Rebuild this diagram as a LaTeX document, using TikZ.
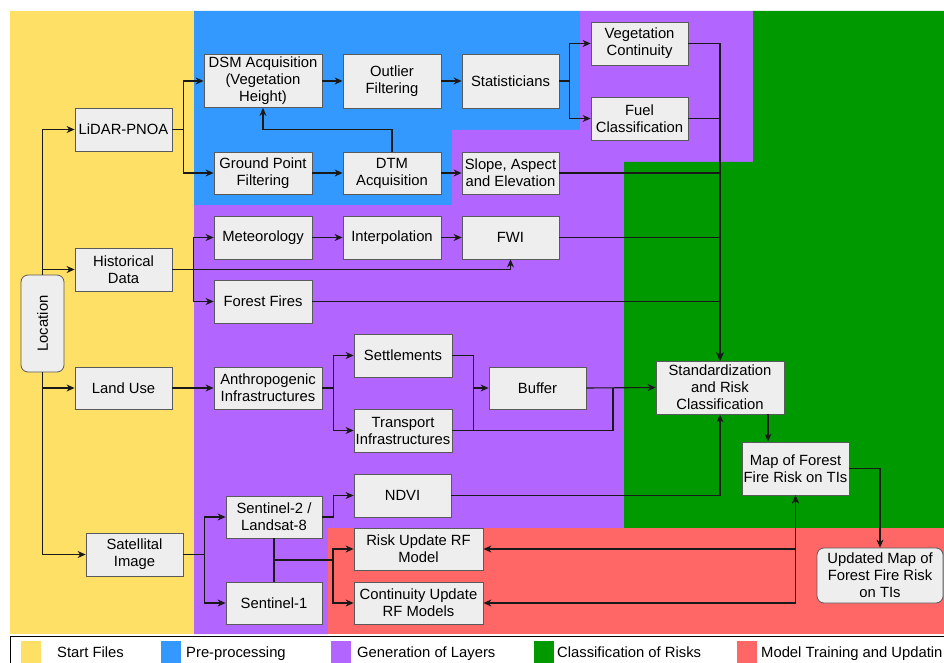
\documentclass[tikz,border=0pt]{standalone}
\usepackage{fontspec}
\usepackage{graphicx}
\setmainfont{Liberation Sans}
\usetikzlibrary{arrows.meta,calc}
\definecolor{cyel}{HTML}{FFE066}
\definecolor{cblu}{HTML}{3399FF}
\definecolor{cpur}{HTML}{B266FF}
\definecolor{cgrn}{HTML}{009900}
\definecolor{cred}{HTML}{FF6666}
\definecolor{cbox}{HTML}{EEEEEE}
\definecolor{cbord}{HTML}{5A5A5A}
\tikzset{
  box/.style={draw=cbord, fill=cbox, line width=0.8pt, align=center, inner sep=1pt,
    font=\fontsize{14.8}{17}\selectfont},
  rbox/.style={box, rounded corners=7pt},
  conn/.style={line width=1.1pt, draw=black!90},
  arr/.style={conn, -{Stealth[length=8pt,width=7pt,inset=2.5pt]}},
  arrb/.style={conn, {Stealth[length=8pt,width=7pt,inset=2.5pt]}-{Stealth[length=8pt,width=7pt,inset=2.5pt]}},
  legtext/.style={anchor=base west, inner sep=0pt, font=\fontsize{14.8}{17}\selectfont}
}
\begin{document}
\begin{tikzpicture}[x=1pt,y=-1pt]
\useasboundingbox (0,0) rectangle (944,663);
\clip (0,0) rectangle (944,663);
\fill[white] (0,0) rectangle (944,663);
% background regions
\fill[cyel] (10,11) rectangle (194,634);
\fill[cblu] (194,11) -- (580,11) -- (580,130) -- (452,130) -- (452,205) -- (194,205) -- cycle;
\fill[cpur] (580,11) -- (753,11) -- (753,162) -- (624,162) -- (624,528) -- (328,528) -- (328,634)
  -- (194,634) -- (194,205) -- (452,205) -- (452,130) -- (580,130) -- cycle;
\fill[cgrn] (753,11) -- (944,11) -- (944,528) -- (624,528) -- (624,162) -- (753,162) -- cycle;
\fill[cred] (328,528) rectangle (944,634);

% nodes
\node[rbox, minimum width=43pt, minimum height=97pt] (loc) at (42.5,323.5) {\rotatebox{90}{Location}};
\node[box, minimum width=97pt, minimum height=43pt] (lidar) at (123.5,129.5) {LiDAR-PNOA};
\node[box, minimum width=97pt, minimum height=43pt] (hist) at (123.5,269.5) {Historical\\Data};
\node[box, minimum width=97pt, minimum height=42pt] (land) at (123.5,388) {Land Use};
\node[box, minimum width=97pt, minimum height=43pt] (sat) at (134.5,554.5) {Satellital\\Image};

\node[box, minimum width=118pt, minimum height=53pt] (dsm) at (263,81) {DSM Acquisition\\(Vegetation\\Height)};
\node[box, minimum width=98pt, minimum height=42pt] (gpf) at (263,173) {Ground Point\\Filtering};
\node[box, minimum width=98pt, minimum height=54pt] (outl) at (392,81) {Outlier\\Filtering};
\node[box, minimum width=97pt, minimum height=54pt] (stat) at (510.5,81) {Statisticians};
\node[box, minimum width=98pt, minimum height=42pt] (dtm) at (392,173) {DTM\\Acquisition};
\node[box, minimum width=97pt, minimum height=42pt] (slope) at (510.5,173) {Slope, Aspect\\and Elevation};
\node[box, minimum width=97pt, minimum height=43pt] (vegc) at (639.5,43.5) {Vegetation\\Continuity};
\node[box, minimum width=97pt, minimum height=43pt] (fuel) at (639.5,118.5) {Fuel\\Classification};

\node[box, minimum width=98pt, minimum height=43pt] (met) at (263,237.5) {Meteorology};
\node[box, minimum width=98pt, minimum height=43pt] (interp) at (392,237.5) {Interpolation};
\node[box, minimum width=97pt, minimum height=43pt] (fwi) at (510.5,237.5) {FWI};
\node[box, minimum width=98pt, minimum height=43pt] (ff) at (263,301.5) {Forest Fires};

\node[box, minimum width=108pt, minimum height=42pt] (anth) at (268,388) {Anthropogenic\\Infrastructures};
\node[box, minimum width=98pt, minimum height=43pt] (sett) at (403,355.5) {Settlements};
\node[box, minimum width=98pt, minimum height=43pt] (trans) at (403,430.5) {Transport\\Infrastructures};
\node[box, minimum width=97pt, minimum height=42pt] (buf) at (537.5,388) {Buffer};

\node[box, minimum width=128pt, minimum height=53pt] (std) at (720,387.5) {Standardization\\and Risk\\Classification};
\node[box, minimum width=107pt, minimum height=53pt] (map) at (795.5,468.5) {Map of Forest\\Fire Risk on TIs};
\node[rbox, minimum width=126pt, minimum height=55pt] (upd) at (880,575.5) {Updated Map of\\Forest Fire Risk\\on TIs};

\node[box, minimum width=96pt, minimum height=42pt] (s2) at (274,517) {Sentinel-2 /\\Landsat-8};
\node[box, minimum width=96pt, minimum height=42pt] (s1) at (274,603) {Sentinel-1};
\node[box, minimum width=97pt, minimum height=43pt] (ndvi) at (402.5,495.5) {NDVI};
\node[box, minimum width=129pt, minimum height=42pt] (risk) at (418.5,549) {Risk Update RF\\Model};
\node[box, minimum width=129pt, minimum height=42pt] (cont) at (418.5,603) {Continuity Update\\RF Models};

% connectors from Location
\draw[arr] (loc.north) |- (lidar.west);
\draw[arr] (loc.north) |- (hist.west);
\draw[arr] (loc.south) |- (land.west);
\draw[arr] (loc.south) |- (sat.west);

% LiDAR branch
\draw[arr] (lidar.east) -- ++(11,0) |- (dsm.west);
\draw[arr] (lidar.east) -- ++(11,0) |- (gpf.west);
\draw[arr] (dsm.east) -- (outl.west);
\draw[arr] (outl.east) -- (stat.west);
\draw[arr] (stat.east) -- ++(10,0) |- (vegc.west);
\draw[arr] (stat.east) -- ++(10,0) |- (fuel.west);
\draw[arr] (gpf.east) -- (dtm.west);
\draw[arr] (dtm.east) -- (slope.west);
\draw[arr] (dtm.north) -- ++(0,-22) -| (dsm.south);

% into standardization from top
\draw[arr] (vegc.east) -| (std.north);
\draw[arr] (fuel.east) -| (std.north);
\draw[arr] (slope.east) -| (std.north);
\draw[arr] (fwi.east) -| (std.north);
\draw[arr] (ff.east) -| (std.north);

% historical data
\draw[arr] (hist.east) -- ++(21,0) |- (met.west);
\draw[arr] (hist.east) -- ++(21,0) |- (ff.west);
\draw[arr] (hist.east) -| (fwi.south);
\draw[arr] (met.east) -- (interp.west);
\draw[arr] (interp.east) -- (fwi.west);

% land use
\draw[arr] (land.east) -- (anth.west);
\draw[arr] (anth.east) -- ++(11,0) |- (sett.west);
\draw[arr] (anth.east) -- ++(11,0) |- (trans.west);
\draw[arr] (sett.east) -- ++(21,0) |- (buf.west);
\draw[conn] (trans.east) -- ++(21,0) -- ++(0,-42.5);
\coordinate (j1) at (613,388);
\draw[conn] (trans.east) -| (j1);
\draw[arr] (buf.east) -- (std.west);

% standardization to map
\draw[arr] ([xshift=48pt]std.south) -- ([xshift=48pt]std.south |- map.north);
\draw[arr] (map.east) -| (upd.north);
\draw[arr] (ndvi.east) -| (std.south);

% satellite
\draw[arr] (sat.east) -- ++(21,0) |- (s2.west);
\draw[arr] (sat.east) -- ++(21,0) |- (s1.west);
\draw[arr] (s2.east) -- ++(11,0) |- (ndvi.west);
\draw[conn] (s2.south) -- (s1.north);
\coordinate (j2) at ($(s2.south)!0.5!(s1.north)$);
\draw[arr] (j2) -- ++(59,0) |- (risk.west);
\draw[arr] (j2) -- ++(59,0) |- (cont.west);
\draw[arrb] (risk.east) -| (map.south);
\draw[arrb] (cont.east) -| (map.south);

% legend
\draw[line width=1pt, fill=white] (10,636) rectangle (970,690);
\fill[cyel] (21,641) rectangle (41,668);
\node[legtext] (lg1) at (57,657) {Start Files};
\fill[cblu] (161,641) rectangle (181,668);
\node[legtext] (lg2) at (186,657) {Pre-processing};
\fill[cpur] (331,641) rectangle (351,668);
\node[legtext] (lg3) at (357,657) {Generation of Layers};
\fill[cgrn] (534,641) rectangle (554,668);
\node[legtext] (lg4) at (557,657) {Classification of Risks};
\fill[cred] (737,641) rectangle (757,668);
\node[legtext] (lg5) at (761,657) {Model Training and Updatin};
\end{tikzpicture}
\end{document}
